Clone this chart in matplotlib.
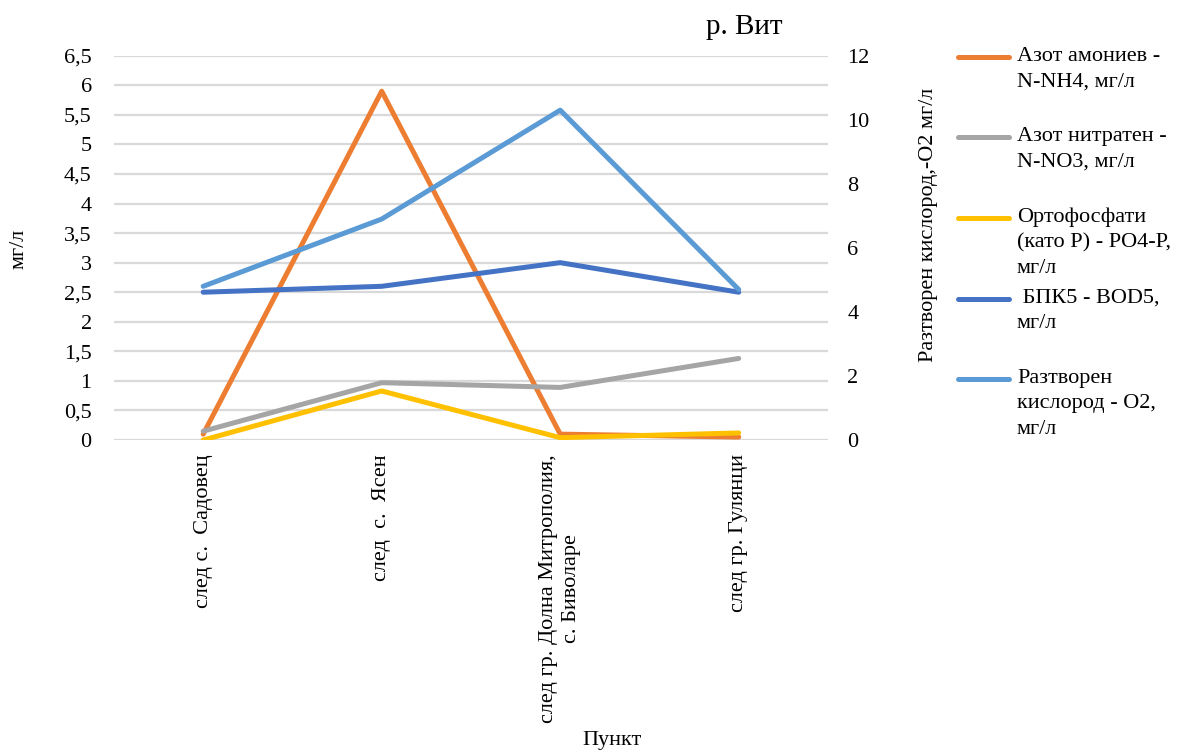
import matplotlib
matplotlib.use("Agg")
import matplotlib.pyplot as plt
from matplotlib.legend_handler import HandlerLine2D
from matplotlib.transforms import ScaledTranslation
import numpy as np

plt.rcParams['font.family'] = ['Liberation Serif', 'DejaVu Serif']

# ---- data ----
categories = ["след с.  Садовец", "след  с.  Ясен",
              "след гр. Долна Митрополия,\nс. Биволаре", "след гр. Гулянци"]
nh4 = [0.10, 5.90, 0.10, 0.05]
no3 = [0.15, 0.97, 0.89, 1.38]
po4 = [0.00, 0.83, 0.04, 0.12]
bod5 = [2.50, 2.60, 3.00, 2.50]
o2 = [4.8, 6.9, 10.3, 4.7]

left_ticks = [0, 0.5, 1, 1.5, 2, 2.5, 3, 3.5, 4, 4.5, 5, 5.5, 6, 6.5]
right_ticks = [0, 2, 4, 6, 8, 10, 12]

labels = ["Азот амониев -\nN-NH4, мг/л\n ",
          "Азот нитратен -\nN-NO3, мг/л\n ",
          "Ортофосфати\n(като Р) - PO4-P,\nмг/л",
          " БПК5 - BOD5,\nмг/л\n ",
          "Разтворен\nкислород - О2,\nмг/л"]
colors = ["#ED7D31", "#A5A5A5", "#FFC000", "#4472C4", "#5B9BD5"]

FS = 16

fig = plt.figure(figsize=(11.92, 7.54), dpi=100)
ax = fig.add_axes([0.0956, 0.4164, 0.599, 0.5097])
ax2 = ax.twinx()

x = np.arange(len(categories))
lw = 3.6
kw = dict(lw=lw, solid_capstyle='round', solid_joinstyle='round', zorder=3)
l1, = ax.plot(x, nh4, color=colors[0], **kw)
l2, = ax.plot(x, no3, color=colors[1], **kw)
l3, = ax.plot(x, po4, color=colors[2], **kw)
l4, = ax.plot(x, bod5, color=colors[3], **kw)
l5, = ax2.plot(x, o2, color=colors[4], **kw)

ax.set_xlim(-0.5, len(categories) - 0.5)
ax.set_ylim(0, 6.5)
ax2.set_ylim(0, 12)
ax.set_yticks(left_ticks)
ax.set_yticklabels([("%g" % v).replace('.', ',') for v in left_ticks], fontsize=FS)
ax2.set_yticks(right_ticks)
ax2.set_yticklabels([str(v) for v in right_ticks], fontsize=FS)
ax.set_xticks(x)
ax.set_xticklabels(categories, rotation=90, fontsize=FS, va='top', ha='center',
                   multialignment='center')
off = ScaledTranslation(4 / 100.0, 0, fig.dpi_scale_trans)
for t in ax.get_xticklabels():
    t.set_linespacing(1.3)
    t.set_transform(t.get_transform() + off)
ax.grid(axis='y', color='#D9D9D9', lw=1.6, zorder=0)
ax.set_axisbelow(True)
for a in (ax, ax2):
    for s in a.spines.values():
        s.set_visible(False)
ax.tick_params(axis='y', length=0, pad=16)
ax2.tick_params(axis='y', length=0, pad=14)
ax.tick_params(axis='x', length=0, pad=10)

fig.text(612 / 1192, 1 - 740 / 754, "Пункт", ha='center', va='center', fontsize=FS)
fig.text(19 / 1192, 1 - 249 / 754, "мг/л", ha='center', va='center', rotation=90, fontsize=FS)
fig.text(928 / 1192, 1 - 225 / 754, "Разтворен кислород,-О2 мг/л", ha='center', va='center',
         rotation=90, fontsize=FS)
fig.text(744 / 1192, 1 - 27 / 754, "р. Вит", ha='center', va='center', fontsize=21)

LS = 1.47


class TopHandler(HandlerLine2D):
    def create_artists(self, legend, orig_handle, xdescent, ydescent, width, height, fontsize, trans):
        arts = super().create_artists(legend, orig_handle, xdescent, ydescent, width, height, fontsize, trans)
        shift = 24 * 72 / 100.0
        for a in arts:
            if hasattr(a, 'get_ydata'):
                a.set_ydata(np.asarray(a.get_ydata()) + shift)
        return arts


leg = fig.legend([l1, l2, l3, l4, l5], labels, loc='upper left',
                 bbox_to_anchor=(958 / 1192, 1 - 47 / 754), frameon=False, fontsize=FS,
                 handlelength=2.3, handletextpad=0.35, labelspacing=0.45, borderpad=0,
                 borderaxespad=0, handler_map={matplotlib.lines.Line2D: TopHandler()})
for t in leg.get_texts():
    t.set_linespacing(LS)

fig.savefig("out.png", dpi=100)
